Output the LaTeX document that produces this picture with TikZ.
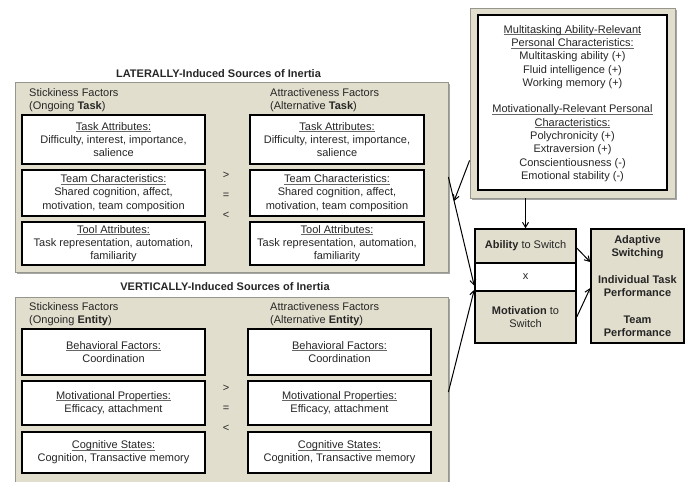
\documentclass[tikz,border=0pt]{standalone}
\usepackage{fontspec}
\setmainfont{Liberation Sans}
\usepackage{xcolor}
\usetikzlibrary{arrows.meta, calc, shadows}
\definecolor{PanelBeige}{RGB}{225,222,205}
\definecolor{PanelEdge}{RGB}{150,150,140}
\newcommand{\hdul}[1]{\leavevmode\setbox0\hbox{#1}\rlap{\textcolor{black!60}{\rule[-1.6pt]{\wd0}{0.5pt}}}\box0}

\tikzset{
  panel/.style={draw=PanelEdge, fill=PanelBeige, line width=0.8pt, inner sep=0pt,
    drop shadow={shadow xshift=1.5pt, shadow yshift=-1.5pt, fill=black!35, opacity=1}},
  factor/.style={draw=black, fill=white, line width=1.5pt, align=center, inner sep=0pt},
  switchbox/.style={draw=black, fill=PanelBeige, line width=1.5pt, align=center, inner sep=0pt},
  header/.style={anchor=west, align=left, inner sep=0pt},
  heading/.style={font=\fontsize{11}{13.2}\selectfont\bfseries, inner sep=0pt},
  compare/.style={align=center, inner sep=0pt},
  link/.style={draw=black, line width=1pt, -{Straight Barb[length=5pt, width=6pt]}}
}

\begin{document}
\begin{tikzpicture}[x=1pt, y=-1pt, font=\fontsize{11}{13.2}\selectfont, text=black!85]

	\useasboundingbox (0,0) rectangle (689,482);

	% lateral sources
	\node[heading] (latT) at (218.5,74) {LATERALLY-Induced Sources of Inertia};
	\node[panel, minimum width=433pt, minimum height=190pt] (lat) at (231.5,177) {};
	\node[header] (latSh) at (29,100) {Stickiness Factors\\(Ongoing \textbf{Task})};
	\node[header] (latAh) at (270,100) {Attractiveness Factors\\(Alternative \textbf{Task})};

	\node[factor, minimum width=183pt, minimum height=49pt] (latS1) at (113.5,139.5)
		{\hdul{Task Attributes:}\\Difficulty, interest, importance,\\salience};
	\node[factor, minimum width=183pt, minimum height=46pt] (latS2) at (113.5,193)
		{\hdul{Team Characteristics:}\\Shared cognition, affect,\\motivation, team composition};
	\node[factor, minimum width=183pt, minimum height=43pt] (latS3) at (113.5,243.5)
		{\hdul{Tool Attributes:}\\Task representation, automation,\\familiarity};

	\node[factor, minimum width=174pt, minimum height=49pt] (latA1) at (337,139.5)
		{\hdul{Task Attributes:}\\Difficulty, interest, importance,\\salience};
	\node[factor, minimum width=174pt, minimum height=46pt] (latA2) at (337,193)
		{\hdul{Team Characteristics:}\\Shared cognition, affect,\\motivation, team composition};
	\node[factor, minimum width=174pt, minimum height=43pt] (latA3) at (337,243.5)
		{\hdul{Tool Attributes:}\\Task representation, automation,\\familiarity};

	\node[compare] (latC) at (226,195) {>\\[6.8pt]=\\[6.8pt]<};

	% vertical sources
	\node[heading] (verT) at (225,287) {VERTICALLY-Induced Sources of Inertia};
	\node[panel, minimum width=433pt, minimum height=190pt] (ver) at (231.5,392) {};
	\node[header] (verSh) at (29,314.5) {Stickiness Factors\\(Ongoing \textbf{Entity})};
	\node[header] (verAh) at (270,314.5) {Attractiveness Factors\\(Alternative \textbf{Entity})};

	\node[factor, minimum width=183pt, minimum height=46pt] (verS1) at (113.5,352)
		{\hdul{Behavioral Factors:}\\Coordination};
	\node[factor, minimum width=183pt, minimum height=44pt] (verS2) at (113.5,403)
		{\hdul{Motivational Properties:}\\Efficacy, attachment};
	\node[factor, minimum width=183pt, minimum height=41pt] (verS3) at (113.5,452.5)
		{\hdul{Cognitive States:}\\Cognition, Transactive memory};

	\node[factor, minimum width=183pt, minimum height=46pt] (verA1) at (339.5,352)
		{\hdul{Behavioral Factors:}\\Coordination};
	\node[factor, minimum width=183pt, minimum height=44pt] (verA2) at (339.5,403)
		{\hdul{Motivational Properties:}\\Efficacy, attachment};
	\node[factor, minimum width=183pt, minimum height=41pt] (verA3) at (339.5,452.5)
		{\hdul{Cognitive States:}\\Cognition, Transactive memory};

	\node[compare] (verC) at (226,408) {>\\[6.8pt]=\\[6.8pt]<};

	% personal characteristics
	\node[panel, minimum width=205pt, minimum height=190pt] (pers) at (572.5,103) {};
	\node[factor, minimum width=189pt, minimum height=175pt] (persIn) at (572.5,102.5) {};
	\node[compare, anchor=north, font=\fontsize{11}{13.4}\selectfont] (persTxt) at (572.5,25)
		{\hdul{Multitasking Ability-Relevant}\\\hdul{Personal Characteristics:}\\
		 Multitasking ability (+)\\Fluid intelligence (+)\\Working memory (+)\\[12.6pt]
		 \hdul{Motivationally-Relevant Personal}\\\hdul{Characteristics:}\\
		 Polychronicity (+)\\Extraversion (+)\\Conscientiousness (-)\\Emotional stability (-)};

	% switching
	\node[switchbox, minimum width=101pt, minimum height=34pt] (abil) at (525.5,246)
		{\textbf{Ability} to Switch};
	\node[factor, minimum width=101pt, minimum height=28pt] (xbox) at (525.5,277) {x};
	\node[switchbox, minimum width=101pt, minimum height=52pt] (motiv) at (525.5,317)
		{\textbf{Motivation} to\\Switch};
	\node[switchbox, minimum width=93pt, minimum height=114pt, font=\fontsize{11}{13.2}\selectfont\bfseries] (outc) at (637.5,286)
		{Adaptive\\Switching\\[13.5pt]Individual Task\\Performance\\[13.5pt]Team\\Performance};

	% connectors
	\draw[link] (lat.east) -- ([yshift=6pt]xbox.south west) coordinate[pos=0.22] (mod);
	\draw[link] (ver.east) -- ([yshift=2pt]xbox.south west);
	\draw[link] ([yshift=38pt]pers.south west) -- (mod);
	\draw[link] (pers.south -| abil.north) -- (abil.north);
	\draw[link] ([yshift=-2pt]abil.east) -- ([yshift=24pt]outc.west);
	\draw[link] (motiv.east) -- ([yshift=-2pt]outc.west);

\end{tikzpicture}
\end{document}
